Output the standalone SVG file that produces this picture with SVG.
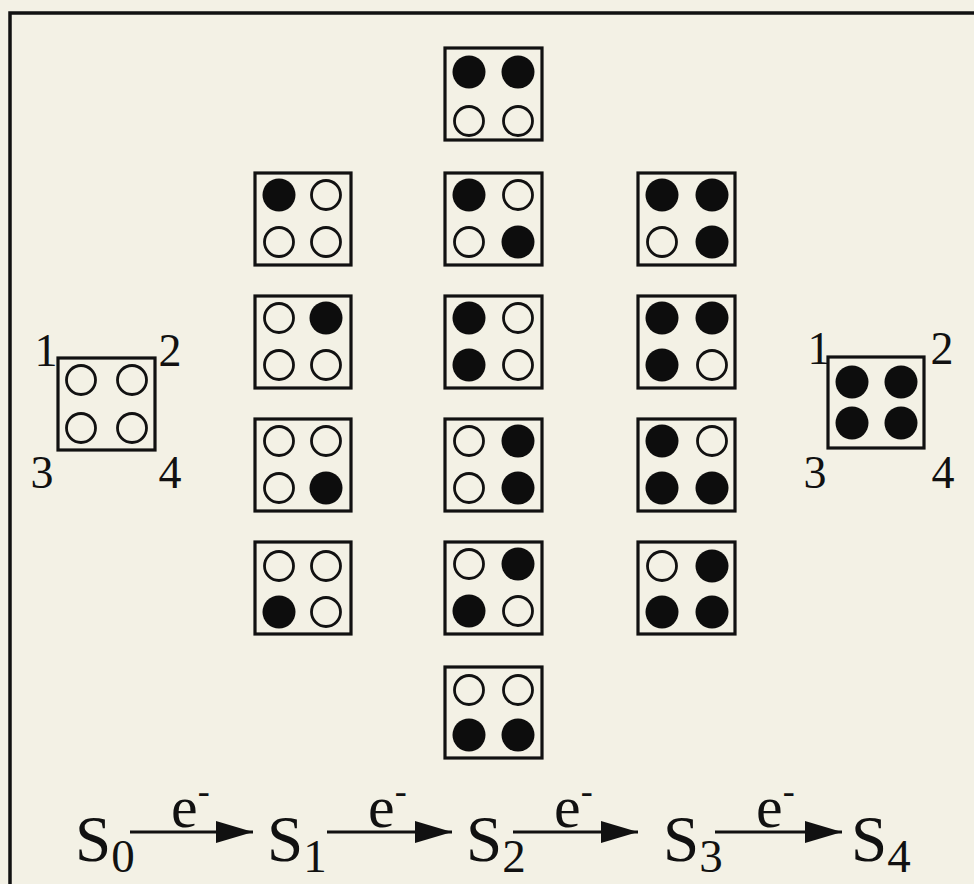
<svg xmlns="http://www.w3.org/2000/svg" width="974" height="884" viewBox="0 0 974 884">
<style>
.box{fill:none;stroke:#111;stroke-width:3.2}
.o{fill:none;stroke:#111;stroke-width:2.8}
.f{fill:#0d0d0d}
.t{font-family:"Liberation Serif","Times New Roman",serif;fill:#111}
.num{font-size:46px;text-anchor:middle}
.big{font-size:65px}
.sub{font-size:47px}
.e{font-size:60px}
.arr{stroke:#111;stroke-width:3;fill:none}
</style>
<defs>
<marker id="ah" markerUnits="userSpaceOnUse" markerWidth="40" markerHeight="24" refX="37" refY="12" orient="auto">
<path d="M0,1 L37,12 L0,23 Z" fill="#111"/>
</marker>
<g id="o"><circle r="14.5" class="o"/></g>
<g id="fc"><circle r="16.5" class="f"/></g>
</defs>
<rect x="0" y="0" width="974" height="884" fill="#f3f1e5"/>
<path d="M10,890 L10,13 L980,13" fill="none" stroke="#111" stroke-width="3.5"/>

<g id="S0box" transform="translate(58,358)">
<rect class="box" width="97" height="92"/>
<use href="#o" x="23" y="22"/><use href="#o" x="74" y="22"/><use href="#o" x="23" y="70"/><use href="#o" x="74" y="70"/>
<text class="t num" x="-12" y="8">1</text><text class="t num" x="112" y="8">2</text>
<text class="t num" x="-16" y="130">3</text><text class="t num" x="112" y="130">4</text>
</g>

<g id="S4box" transform="translate(828,357)">
<rect class="box" width="96" height="91"/>
<use href="#fc" x="24" y="25"/><use href="#fc" x="73" y="25"/><use href="#fc" x="24" y="66"/><use href="#fc" x="73" y="66"/>
<text class="t num" x="-9" y="7">1</text><text class="t num" x="114" y="7">2</text>
<text class="t num" x="-13" y="131">3</text><text class="t num" x="115" y="131">4</text>
</g>

<!-- column 1 (S1) -->
<g id="c1r1" transform="translate(255,173)">
<rect class="box" width="96" height="92"/>
<use href="#fc" x="24" y="22"/><use href="#o" x="71" y="22"/><use href="#o" x="24" y="69"/><use href="#o" x="71" y="69"/>
</g>
<g id="c1r2" transform="translate(255,296)">
<rect class="box" width="96" height="92"/>
<use href="#o" x="24" y="22"/><use href="#fc" x="71" y="22"/><use href="#o" x="24" y="69"/><use href="#o" x="71" y="69"/>
</g>
<g id="c1r3" transform="translate(255,419)">
<rect class="box" width="96" height="92"/>
<use href="#o" x="24" y="22"/><use href="#o" x="71" y="22"/><use href="#o" x="24" y="69"/><use href="#fc" x="71" y="69"/>
</g>
<g id="c1r4" transform="translate(255,542)">
<rect class="box" width="96" height="92"/>
<use href="#o" x="24" y="24"/><use href="#o" x="71" y="24"/><use href="#fc" x="24" y="70"/><use href="#o" x="71" y="70"/>
</g>

<!-- column 2 (S2) -->
<g id="c2r1" transform="translate(445,48)">
<rect class="box" width="97" height="92"/>
<use href="#fc" x="24" y="24"/><use href="#fc" x="73" y="24"/><use href="#o" x="24" y="73"/><use href="#o" x="73" y="73"/>
</g>
<g id="c2r2" transform="translate(445,173)">
<rect class="box" width="97" height="92"/>
<use href="#fc" x="24" y="22"/><use href="#o" x="73" y="22"/><use href="#o" x="24" y="69"/><use href="#fc" x="73" y="69"/>
</g>
<g id="c2r3" transform="translate(445,296)">
<rect class="box" width="97" height="92"/>
<use href="#fc" x="24" y="22"/><use href="#o" x="73" y="22"/><use href="#fc" x="24" y="69"/><use href="#o" x="73" y="69"/>
</g>
<g id="c2r4" transform="translate(445,419)">
<rect class="box" width="97" height="92"/>
<use href="#o" x="24" y="22"/><use href="#fc" x="73" y="22"/><use href="#o" x="24" y="69"/><use href="#fc" x="73" y="69"/>
</g>
<g id="c2r5" transform="translate(445,542)">
<rect class="box" width="97" height="92"/>
<use href="#o" x="24" y="22"/><use href="#fc" x="73" y="22"/><use href="#fc" x="24" y="69"/><use href="#o" x="73" y="69"/>
</g>
<g id="c2r6" transform="translate(445,667)">
<rect class="box" width="97" height="91"/>
<use href="#o" x="24" y="23"/><use href="#o" x="73" y="23"/><use href="#fc" x="24" y="68"/><use href="#fc" x="73" y="68"/>
</g>

<!-- column 3 (S3) -->
<g id="c3r1" transform="translate(638,173)">
<rect class="box" width="97" height="92"/>
<use href="#fc" x="24" y="22"/><use href="#fc" x="74" y="22"/><use href="#o" x="24" y="69"/><use href="#fc" x="74" y="69"/>
</g>
<g id="c3r2" transform="translate(638,296)">
<rect class="box" width="97" height="92"/>
<use href="#fc" x="24" y="22"/><use href="#fc" x="74" y="22"/><use href="#fc" x="24" y="69"/><use href="#o" x="74" y="69"/>
</g>
<g id="c3r3" transform="translate(638,419)">
<rect class="box" width="97" height="92"/>
<use href="#fc" x="24" y="22"/><use href="#o" x="74" y="22"/><use href="#fc" x="24" y="69"/><use href="#fc" x="74" y="69"/>
</g>
<g id="c3r4" transform="translate(638,542)">
<rect class="box" width="97" height="92"/>
<use href="#o" x="24" y="24"/><use href="#fc" x="74" y="24"/><use href="#fc" x="24" y="70"/><use href="#fc" x="74" y="70"/>
</g>

<!-- state labels -->
<g id="S0"><text class="t big" x="75" y="861">S<tspan class="sub" dy="11">0</tspan></text></g>
<g id="S1"><text class="t big" x="267" y="861">S<tspan class="sub" dy="11">1</tspan></text></g>
<g id="S2"><text class="t big" x="466" y="861">S<tspan class="sub" dy="11">2</tspan></text></g>
<g id="S3"><text class="t big" x="663" y="861">S<tspan class="sub" dy="11">3</tspan></text></g>
<g id="S4"><text class="t big" x="851" y="861">S<tspan class="sub" dy="11">4</tspan></text></g>

<g id="connectors">
<line class="arr" x1="130" y1="832" x2="253" y2="832" marker-end="url(#ah)"/>
<line class="arr" x1="327" y1="832" x2="452" y2="832" marker-end="url(#ah)"/>
<line class="arr" x1="513" y1="832" x2="638" y2="832" marker-end="url(#ah)"/>
<line class="arr" x1="715" y1="832" x2="842" y2="832" marker-end="url(#ah)"/>
<text class="t e" x="171" y="827">e<tspan dy="-24" font-size="36">-</tspan></text>
<text class="t e" x="368" y="827">e<tspan dy="-24" font-size="36">-</tspan></text>
<text class="t e" x="554" y="827">e<tspan dy="-24" font-size="36">-</tspan></text>
<text class="t e" x="756" y="827">e<tspan dy="-24" font-size="36">-</tspan></text>
</g>
</svg>
